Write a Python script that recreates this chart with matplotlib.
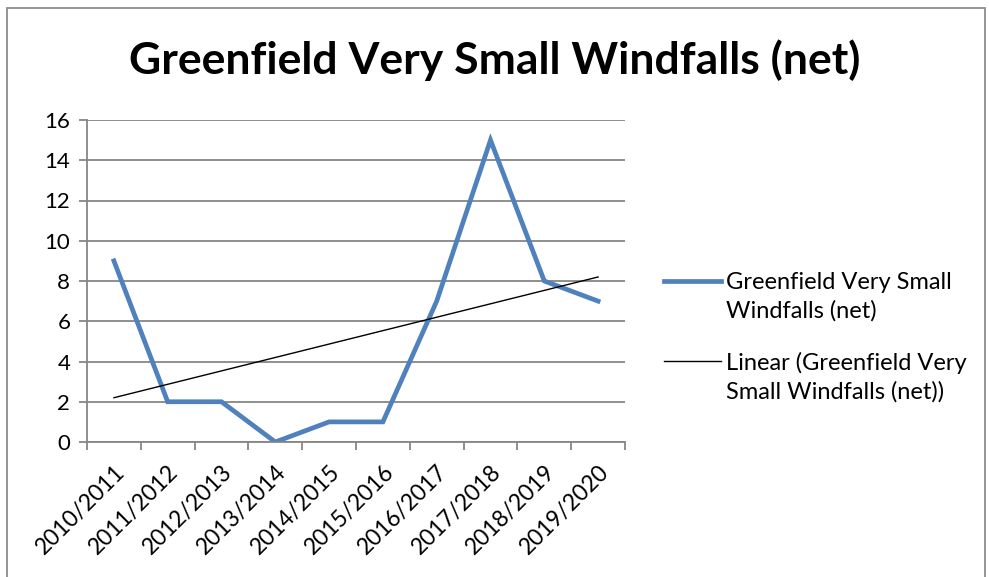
import matplotlib.pyplot as plt
import numpy as np
from matplotlib.patches import Rectangle
from matplotlib.transforms import Affine2D

years = ['2010/2011', '2011/2012', '2012/2013', '2013/2014', '2014/2015',
         '2015/2016', '2016/2017', '2017/2018', '2018/2019', '2019/2020']
windfalls = [9, 2, 2, 0, 1, 1, 7, 15, 8, 7]

plt.rcParams['font.family'] = ['Lato', 'DejaVu Sans']

fig = plt.figure(figsize=(9.89, 5.77), dpi=100)
ax = fig.add_axes([87 / 989, 1 - 442 / 577, (625 - 87) / 989, (442 - 120) / 577])

x = np.arange(len(years))
ax.plot(x, windfalls, color='#4F81BD', linewidth=3.4, solid_joinstyle='miter',
        label='Greenfield Very Small\nWindfalls (net)')

# linear trendline like Excel
slope, intercept = np.polyfit(x, windfalls, 1)
ax.plot(x, slope * x + intercept, color='black', linewidth=1,
        label='Linear (Greenfield Very\nSmall Windfalls (net))')

ax.set_xlim(-0.5, len(years) - 0.5)
ax.set_ylim(0, 16)
ax.set_yticks(range(0, 17, 2))
ax.yaxis.grid(True, color='#868686', linewidth=1.3)
ax.set_axisbelow(True)

ax.set_xticks(x)
ax.set_xticklabels(years, rotation=45, ha='right', rotation_mode='anchor', fontsize=16.5)
ax.set_xticks(np.arange(-0.5, len(years)), minor=True)
ax.tick_params(axis='x', which='major', length=0, pad=14)
ax.tick_params(axis='x', which='minor', length=6, width=1.3, color='#868686', direction='out')
ax.tick_params(axis='y', length=6, width=1.3, color='#868686', labelsize=16, pad=6)

for side in ['top', 'right']:
    ax.spines[side].set_visible(False)
for side in ['left', 'bottom']:
    ax.spines[side].set_color('#868686')
    ax.spines[side].set_linewidth(1.3)

fig.text(0.5, 1 - 60 / 577, 'Greenfield Very Small Windfalls (net)', ha='center', va='center',
         fontsize=32, fontweight='bold')

leg = fig.legend(loc='center left', bbox_to_anchor=(643 / 989, 1 - 337 / 577), frameon=False,
                 fontsize=17, handlelength=2.4, handletextpad=0.2, labelspacing=1.3)
for t in leg.get_texts():
    t.set_linespacing(1.4)
# Excel puts the legend key next to the first text line
for h in leg.legend_handles:
    h.set_transform(h.get_transform() + Affine2D().translate(0, 16))

fig.patches.append(Rectangle((7 / 989, -0.01), 978 / 989, 1 - 8 / 577 + 0.01,
                             transform=fig.transFigure, fill=False,
                             edgecolor='#8C8C8C', linewidth=1.3))

fig.savefig('out.png', dpi=100)
